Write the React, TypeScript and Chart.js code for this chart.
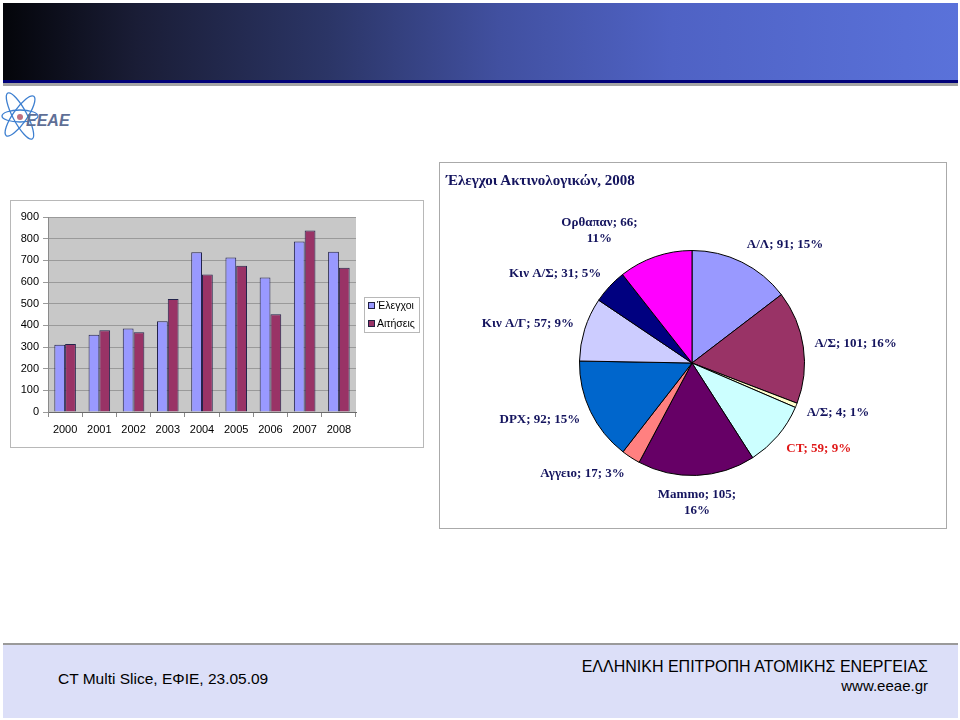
import React, { useEffect, useRef } from "react";
import { Chart, registerables } from "chart.js";

Chart.register(...registerables);

// ---------- DATA ----------
const years = ["2000", "2001", "2002", "2003", "2004", "2005", "2006", "2007", "2008"];
const elegxoi = [310, 357, 385, 419, 737, 713, 621, 787, 740];
const aitiseis = [314, 377, 368, 521, 635, 675, 451, 838, 666];
const barSeriesNames = ["Έλεγχοι", "Αιτήσεις"];
const barAxisMax = 900;
const barAxisStep = 100;

const pieTitle = "Έλεγχοι Ακτινολογικών, 2008";
const pieNames = ["Α/Λ", "Α/Σ", "Α/Σ", "CT", "Mammo", "Αγγειο", "DPX", "Κιν Α/Γ", "Κιν Α/Σ", "Ορθαπαν"];
const pieValues = [91, 101, 4, 59, 105, 17, 92, 57, 31, 66];
const piePercents = ["15%", "16%", "1%", "9%", "16%", "3%", "15%", "9%", "5%", "11%"];

const footerLeft = "CT Multi Slice, ΕΦΙΕ, 23.05.09";
const footerRight = "ΕΛΛΗΝΙΚΗ ΕΠΙΤΡΟΠΗ ΑΤΟΜΙΚΗΣ ΕΝΕΡΓΕΙΑΣ";
const footerUrl = "www.eeae.gr";
const logoText = "EEAE";

// ---------- STYLE ----------
const barColors = ["#9999FF", "#993366"];
const pieColors = ["#9999FF", "#993366", "#FFFFCC", "#CCFFFF", "#660066", "#FF8080", "#0066CC", "#CCCCFF", "#000080", "#FF00FF"];
const pieLabelColors = ["#14145e", "#14145e", "#14145e", "#e01818", "#14145e", "#14145e", "#14145e", "#14145e", "#14145e", "#14145e"];

const barPlugin = {
  id: "barDecor",
  beforeDraw(chart: any) {
    const { ctx, chartArea: a } = chart;
    ctx.save();
    ctx.fillStyle = "#c8c8c8";
    ctx.fillRect(a.left, a.top, a.right - a.left, a.bottom - a.top);
    ctx.restore();
  },
  afterDraw(chart: any) {
    const { ctx, chartArea: a } = chart;
    const ds = chart.data.datasets;
    const w = 56;
    const rowH = 18;
    const h = ds.length * rowH;
    const x = a.right + 8;
    const y = Math.round((a.top + a.bottom) / 2 - h / 2);
    ctx.save();
    ctx.fillStyle = "#ffffff";
    ctx.fillRect(x, y, w, h);
    ctx.strokeStyle = "#b8b8b8";
    ctx.lineWidth = 1;
    ctx.strokeRect(x + 0.5, y + 0.5, w - 1, h - 1);
    ctx.font = '10.5px "Liberation Sans", Arial, sans-serif';
    ctx.textBaseline = "middle";
    ds.forEach((d: any, i: number) => {
      const cy = y + rowH * i + rowH / 2;
      ctx.fillStyle = d.backgroundColor;
      ctx.fillRect(x + 4, Math.round(cy - 4), 7, 7);
      ctx.strokeStyle = "#202040";
      ctx.strokeRect(x + 4.5, Math.round(cy - 4) + 0.5, 6, 6);
      ctx.fillStyle = "#000";
      ctx.fillText(d.label, x + 13, cy + 0.5);
    });
    ctx.restore();
  },
};

const pieLabelPlugin = {
  id: "pieLabels",
  afterDatasetsDraw(chart: any) {
    const ctx = chart.ctx;
    const meta = chart.getDatasetMeta(0);
    ctx.save();
    ctx.font = 'bold 13px "Liberation Serif", "Times New Roman", serif';
    ctx.textBaseline = "middle";
    ctx.textAlign = "center";
    meta.data.forEach((arc: any, i: number) => {
      const p = arc.getProps(["x", "y", "startAngle", "endAngle", "outerRadius"], true);
      const mid = (p.startAngle + p.endAngle) / 2;
      const dx = Math.cos(mid);
      const dy = Math.sin(mid);
      const r = p.outerRadius * 1.1;
      const ax = p.x + dx * r;
      const ay = p.y + dy * r;
      const wrap = Math.abs(dx) < 0.35;
      const lines = wrap
        ? [`${pieNames[i]}; ${pieValues[i]};`, piePercents[i]]
        : [`${pieNames[i]}; ${pieValues[i]}; ${piePercents[i]}`];
      const lh = 16;
      const h = lines.length * lh;
      const bw = Math.max(...lines.map((l) => ctx.measureText(l).width));
      let cx: number;
      if (Math.abs(dx) < 0.15) cx = ax;
      else if (dx > 0) cx = ax + bw / 2;
      else cx = ax - bw / 2 - (wrap ? 14 : 0);
      const cy = ay + (dy * h) / 2;
      ctx.fillStyle = pieLabelColors[i];
      lines.forEach((l, j) => ctx.fillText(l, cx, cy - h / 2 + lh * j + lh / 2));
    });
    ctx.restore();
  },
};

function BarChart() {
  const ref = useRef<HTMLCanvasElement>(null);
  useEffect(() => {
    const chart = new Chart(ref.current!, {
      type: "bar",
      data: {
        labels: years,
        datasets: [
          { label: barSeriesNames[0], data: elegxoi, backgroundColor: barColors[0], borderColor: "#23234a", borderWidth: 1 },
          { label: barSeriesNames[1], data: aitiseis, backgroundColor: barColors[1], borderColor: "#23234a", borderWidth: 1 },
        ],
      },
      options: {
        animation: false,
        responsive: false,
        devicePixelRatio: 1,
        layout: { padding: { left: 0, top: 16, right: 67, bottom: 0 } },
        datasets: { bar: { categoryPercentage: 0.63, barPercentage: 1 } },
        plugins: { legend: { display: false }, tooltip: { enabled: false }, title: { display: false } },
        scales: {
          x: {
            afterFit: (s: any) => { s.height = 35; },
            grid: { display: true, drawOnChartArea: false, offset: true, tickLength: 5, color: "#8a8a8a" },
            border: { display: true, color: "#6a6a6a" },
            ticks: { padding: 6, color: "#000", font: { family: '"Liberation Sans", Arial, sans-serif', size: 11 } },
          },
          y: {
            min: 0,
            max: barAxisMax,
            afterFit: (s: any) => { s.width = 37; },
            grid: { color: "#9a9a9a", tickLength: 5, drawTicks: true },
            border: { display: true, color: "#8a8a8a" },
            ticks: { stepSize: barAxisStep, padding: 4, color: "#000", font: { family: '"Liberation Sans", Arial, sans-serif', size: 11 } },
          },
        },
      },
      plugins: [barPlugin],
    });
    return () => chart.destroy();
  }, []);
  return <canvas ref={ref} width={412} height={246} style={{ display: "block", width: 412, height: 246 }} />;
}

function PieChart() {
  const ref = useRef<HTMLCanvasElement>(null);
  useEffect(() => {
    const chart = new Chart(ref.current!, {
      type: "pie",
      data: {
        labels: pieNames,
        datasets: [{ data: pieValues, backgroundColor: pieColors, borderColor: "#000", borderWidth: 1 }],
      },
      options: {
        animation: false,
        responsive: false,
        devicePixelRatio: 1,
        layout: { padding: { left: 139, right: 141, top: 87, bottom: 52 } },
        plugins: { legend: { display: false }, tooltip: { enabled: false } },
      },
      plugins: [pieLabelPlugin],
    });
    return () => chart.destroy();
  }, []);
  return <canvas ref={ref} width={506} height={365} style={{ display: "block", width: 506, height: 365 }} />;
}

function Logo() {
  return (
    <svg width={80} height={60} style={{ position: "absolute", left: 0, top: 86 }}>
      <g fill="none" stroke="#3d7fd0" strokeWidth={1.3}>
        <ellipse cx={20} cy={30} rx={7} ry={26} transform="rotate(-28 20 30)" />
        <ellipse cx={20} cy={30} rx={7} ry={24} transform="rotate(35 20 30)" />
        <ellipse cx={20} cy={30} rx={6} ry={18} transform="rotate(90 20 30)" />
      </g>
      <circle cx={20} cy={31} r={3} fill="#c07080" />
      <text x={26} y={40} fill="#5f6f96" fontFamily='"Liberation Sans", Arial, sans-serif' fontStyle="italic" fontWeight="bold" fontSize={16}>
        {logoText}
      </text>
    </svg>
  );
}

export default function App() {
  return (
    <div style={{ position: "absolute", left: 0, top: 0, width: 960, height: 720, overflow: "hidden", background: "#fff", fontFamily: '"Liberation Sans", Arial, sans-serif' }}>
      <div style={{ position: "absolute", left: 3, top: 3, width: 955, height: 77, background: "linear-gradient(to right, #04050a 0%, #1a1d36 14%, #2b3566 34%, #4150a0 52%, #4f62c4 70%, #5a72da 100%)" }} />
      <div style={{ position: "absolute", left: 3, top: 80, width: 955, height: 3, background: "#000078" }} />
      <div style={{ position: "absolute", left: 3, top: 83, width: 955, height: 3, background: "#a4a4a4" }} />
      <Logo />

      <div style={{ position: "absolute", left: 10, top: 200, width: 414, height: 248, boxSizing: "border-box", border: "1px solid #b8b8b8", background: "#fff" }}>
        <BarChart />
      </div>

      <div style={{ position: "absolute", left: 439, top: 162, width: 508, height: 367, boxSizing: "border-box", border: "1px solid #aaaaaa", background: "#fff" }}>
        <PieChart />
      </div>
      <div style={{ position: "absolute", left: 446, top: 171, fontFamily: '"Liberation Serif", "Times New Roman", serif', fontWeight: "bold", fontSize: 15, lineHeight: "18px", color: "#14145e", whiteSpace: "nowrap" }}>
        {pieTitle}
      </div>

      <div style={{ position: "absolute", left: 3, top: 643, width: 955, height: 2, background: "#9a9a9a" }} />
      <div style={{ position: "absolute", left: 3, top: 645, width: 955, height: 73, background: "#dcdff8" }} />
      <div style={{ position: "absolute", left: 58, top: 670, fontSize: 15.5, lineHeight: "18px", color: "#000", whiteSpace: "nowrap" }}>{footerLeft}</div>
      <div style={{ position: "absolute", right: 32, top: 657, fontSize: 16, lineHeight: "19px", color: "#000", whiteSpace: "nowrap", textAlign: "right" }}>
        <div>{footerRight}</div>
        <div style={{ fontSize: 15 }}>{footerUrl}</div>
      </div>
    </div>
  );
}
